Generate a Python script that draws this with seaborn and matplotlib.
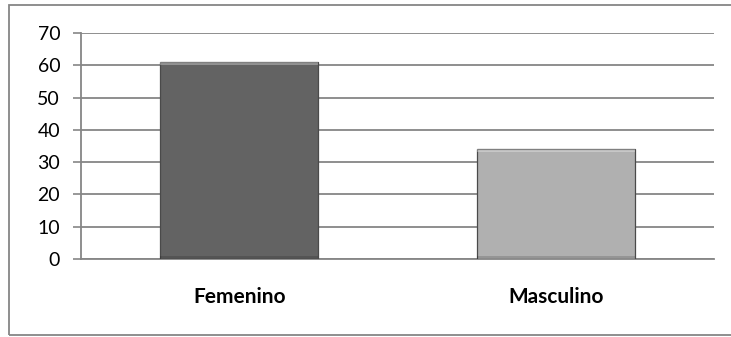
import matplotlib
matplotlib.use("Agg")
import matplotlib.pyplot as plt
import seaborn as sns
import pandas as pd
from matplotlib.patches import Rectangle

categories = ["Femenino", "Masculino"]
values = [61, 34]
bar_colors = ["#636363", "#b0b0b0"]
y_ticks = [0, 10, 20, 30, 40, 50, 60, 70]

sns.set_theme(style="white")
plt.rcParams["font.family"] = ["Lato", "DejaVu Sans"]

df = pd.DataFrame({"cat": categories, "val": values})

fig = plt.figure(figsize=(7.31, 3.37), dpi=100)
ax = fig.add_axes([81/731, 1-259/337, (714-81)/731, (259-33)/337])

sns.barplot(data=df, x="cat", y="val", hue="cat", palette=bar_colors,
            width=0.5, legend=False, ax=ax, saturation=1,
            edgecolor="#4a4a4a", linewidth=0.9, zorder=3)

# subtle bevel: light strip on top, darker strip at bottom
for p in list(ax.patches):
    x0, w, h = p.get_x(), p.get_width(), p.get_height()
    ax.add_patch(Rectangle((x0, h - 0.8), w, 0.8, facecolor="white", alpha=0.3,
                           edgecolor="none", zorder=4))
    ax.add_patch(Rectangle((x0, 0), w, 0.8, facecolor="black", alpha=0.15,
                           edgecolor="none", zorder=4))

ax.set_xlim(-0.5, 1.5)
ax.set_ylim(0, 70)
ax.set_yticks(y_ticks)
ax.set_yticklabels([str(t) for t in y_ticks], fontsize=14, color="black")
ax.set_xticks([-0.5, 0.5, 1.5])
ax.set_xticklabels([])
ax.set_xticks([0, 1], minor=True)
ax.set_xticklabels(categories, minor=True, fontsize=15, fontweight="bold", color="black")
ax.tick_params(axis="x", which="minor", length=0, pad=20)
ax.tick_params(axis="x", which="major", direction="out", length=5, width=1.2, color="#868686")
ax.tick_params(axis="y", direction="out", length=6, width=1.2, color="#868686", pad=9, left=True)
ax.set_xlabel("")
ax.set_ylabel("")

ax.grid(axis="y", color="#868686", linewidth=1.3, zorder=0)
ax.set_axisbelow(True)
for s in ["top", "right"]:
    ax.spines[s].set_visible(False)
for s in ["left", "bottom"]:
    ax.spines[s].set_color("#868686")
    ax.spines[s].set_linewidth(1.3)

# outer chart border
fig.add_artist(Rectangle((9/731, 1-335/337), 1.0, (335-5)/337,
                         transform=fig.transFigure, fill=False,
                         edgecolor="#868686", linewidth=1.3))

fig.savefig("out.png", dpi=100)
